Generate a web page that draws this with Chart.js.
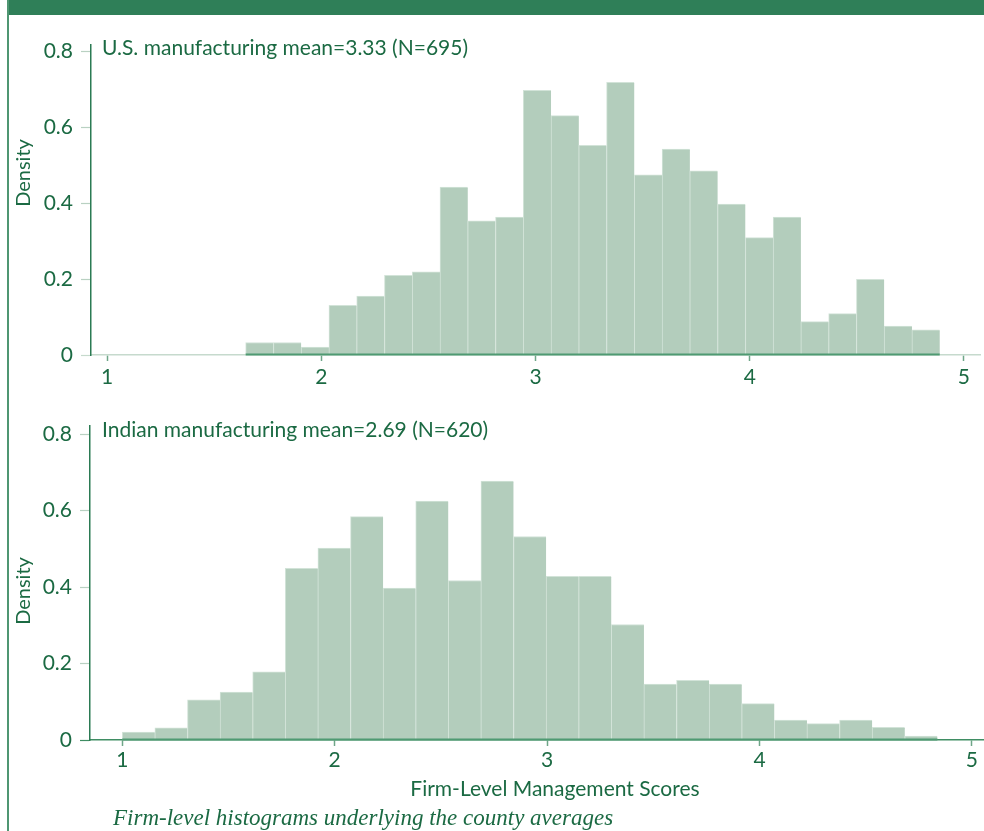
<!DOCTYPE html>
<html>
<head>
<meta charset="utf-8">
<script src="https://cdn.jsdelivr.net/npm/chart.js@4.4.1/dist/chart.umd.min.js"></script>
<style>
html,body{margin:0;padding:0;background:#fff;overflow:hidden;width:984px;height:831px;}
#wrap{position:relative;width:984px;height:831px;overflow:hidden;background:#fff;}
#band{position:absolute;left:7px;top:0;width:977px;height:15px;background:#2f7f58;z-index:3;}
#lborder{position:absolute;left:7px;top:0;width:2px;height:831px;background:#4f9672;z-index:3;}
canvas{position:absolute;left:0;}
#c1{top:0;}
#c2{top:400px;}
.lbl{position:absolute;font-family:Lato,"Open Sans",sans-serif;color:#1b6a43;white-space:nowrap;line-height:22px;font-size:21px;z-index:2;}
.ytitle{position:absolute;font-family:Lato,"Open Sans",sans-serif;color:#1b6a43;white-space:nowrap;font-size:20px;line-height:20px;transform:translate(-50%,-50%) rotate(-90deg);z-index:2;}
#caption{position:absolute;left:113px;top:806px;font-family:"Liberation Serif","DejaVu Serif",serif;font-style:italic;font-size:23px;line-height:24px;color:#1b6a43;white-space:nowrap;z-index:2;}
</style>
</head>
<body>
<div id="wrap">
  <div id="band"></div>
  <div id="lborder"></div>
  <canvas id="c1" width="984" height="400"></canvas>
  <canvas id="c2" width="1020" height="431"></canvas>
  <div class="lbl" id="t1" style="left:102px;top:36px;"></div>
  <div class="lbl" id="t2" style="left:102px;top:418px;"></div>
  <div class="ytitle" style="left:22px;top:173px;">Density</div>
  <div class="ytitle" style="left:22px;top:591px;">Density</div>
  <div id="caption">Firm-level histograms underlying the county averages</div>
</div>
<script>
// ---- data ----
const xTickValues = [1, 2, 3, 4, 5];
const yTickValues = [0, 0.2, 0.4, 0.6, 0.8];
const xAxisTitle = 'Firm-Level Management Scores';

const usLabel = 'U.S. manufacturing mean=3.33 (N=695)';
const usBinStart = 1.647;
const usBinWidth = 0.1296;
const usDensity = [0.033, 0.033, 0.021, 0.131, 0.155, 0.210, 0.219, 0.442, 0.353, 0.363,
                   0.697, 0.630, 0.552, 0.718, 0.474, 0.542, 0.485, 0.397, 0.309, 0.363,
                   0.088, 0.109, 0.199, 0.076, 0.066];

const inLabel = 'Indian manufacturing mean=2.69 (N=620)';
const inBinStart = 1.000;
const inBinWidth = 0.1535;
const inDensity = [0.021, 0.032, 0.105, 0.125, 0.178, 0.449, 0.502, 0.584, 0.397, 0.625,
                   0.417, 0.677, 0.532, 0.428, 0.428, 0.302, 0.146, 0.156, 0.146, 0.095,
                   0.052, 0.043, 0.052, 0.033, 0.010];

document.getElementById('t1').textContent = usLabel;
document.getElementById('t2').textContent = inLabel;

const TEXT = '#1b6a43';
const FONT = 'Lato';

const baseEdge = {
  id: 'baseEdge',
  afterDatasetsDraw(chart, args, o) {
    const bars = chart.getDatasetMeta(0).data;
    if (!bars.length) return;
    const first = bars[0], last = bars[bars.length - 1];
    const y0 = chart.scales.y.getPixelForValue(0);
    const ctx = chart.ctx;
    ctx.save();
    ctx.strokeStyle = o.color || '#4f9a72';
    ctx.lineWidth = 2;
    ctx.beginPath();
    ctx.moveTo(first.x - first.width / 2, y0 - 0.5);
    ctx.lineTo(last.x + last.width / 2, y0 - 0.5);
    ctx.stroke();
    ctx.restore();
  }
};

function makeChart(id, density, start, width, cfg) {
  const pts = density.map((d, i) => ({ x: start + width * (i + 0.5), y: d }));
  return new Chart(document.getElementById(id), {
    type: 'bar',
    data: {
      datasets: [{
        data: pts,
        backgroundColor: '#b3cdbc',
        borderColor: '#d2e3d8',
        borderWidth: { top: 1, left: 1, right: 0, bottom: 0 },
        borderSkipped: false,
        barPercentage: 1,
        categoryPercentage: 1
      }]
    },
    plugins: [baseEdge],
    options: {
      responsive: false,
      animation: false,
      devicePixelRatio: 1,
      layout: { padding: cfg.padding },
      plugins: { legend: { display: false }, tooltip: { enabled: false }, baseEdge: { color: '#4f9a72' } },
      scales: {
        x: {
          type: 'linear',
          offset: false,
          min: cfg.xmin, max: cfg.xmax,
          afterBuildTicks: s => { s.ticks = xTickValues.map(v => ({ value: v })); },
          afterFit: s => { s.height = cfg.xh; },
          grid: { display: true, offset: false, drawOnChartArea: false, drawTicks: true, tickLength: 6, tickColor: '#6fa688', tickWidth: 1.5 },
          border: { display: true, color: cfg.xBorder, width: 1.5 },
          ticks: { font: { family: FONT, size: 21 }, color: TEXT, padding: cfg.xpad, maxRotation: 0, autoSkip: false },
          title: cfg.title ? { display: true, text: xAxisTitle, font: { family: FONT, size: 21 }, color: TEXT, padding: { top: 0, bottom: 29 } } : { display: false }
        },
        y: {
          type: 'linear',
          min: 0, max: cfg.ymax,
          afterBuildTicks: s => { s.ticks = yTickValues.map(v => ({ value: v })); },
          afterFit: s => { s.width = cfg.yw; },
          grid: { display: true, drawOnChartArea: false, drawTicks: true, tickLength: 10,
                  tickColor: c => (c.tick && c.tick.value === 0 ? cfg.xBorder : '#b9d1c2'), tickWidth: 1.2 },
          border: { display: true, color: '#2b7a53', width: 1.5 },
          ticks: { font: { family: FONT, size: 21 }, color: TEXT, padding: 8,
                   callback: v => (v === 0 ? '0' : v.toFixed(1)) }
        }
      }
    }
  });
}

makeChart('c1', usDensity, usBinStart, usBinWidth, {
  padding: { top: 45, right: 4, left: 0, bottom: 0 },
  xmin: 0.925, xmax: 5.075, ymax: 0.816, xh: 45, yw: 91, xpad: 4,
  xBorder: '#c6dacd', title: false
});
makeChart('c2', inDensity, inBinStart, inBinWidth, {
  padding: { top: 26, right: 0, left: 0, bottom: 0 },
  xmin: 0.848, xmax: 5.2265, ymax: 0.821, xh: 91, yw: 90, xpad: 2,
  xBorder: '#3f8d63', title: true
});
</script>
</body>
</html>
